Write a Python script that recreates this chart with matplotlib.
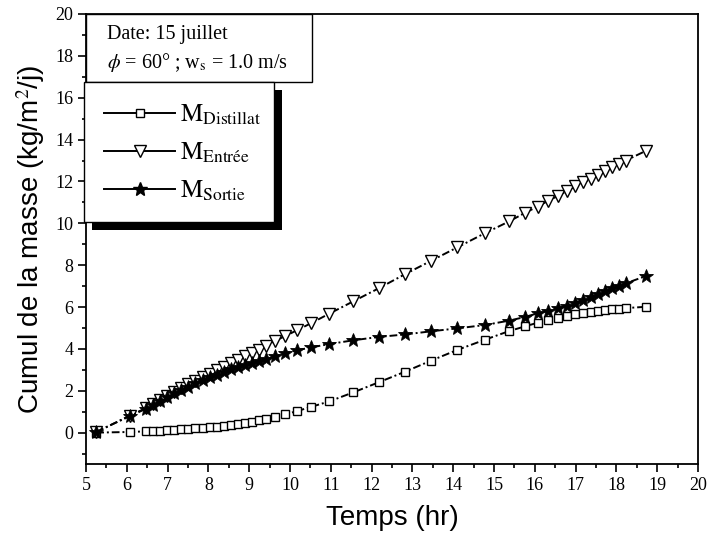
import matplotlib
matplotlib.use("Agg")
import matplotlib.pyplot as plt
from matplotlib.lines import Line2D
from matplotlib.patches import Rectangle
from matplotlib.ticker import MultipleLocator

plt.rcParams['mathtext.fontset'] = 'stix'

# time (hr)
temps = [5.25, 6.07, 6.47, 6.64, 6.82, 6.99, 7.16, 7.34, 7.51, 7.68, 7.86,
         8.03, 8.20, 8.38, 8.55, 8.72, 8.90, 9.07, 9.24, 9.42, 9.63, 9.88,
         10.16, 10.52, 10.96, 11.55, 12.17, 12.82, 13.46, 14.10, 14.78,
         15.37, 15.75, 16.07, 16.32, 16.57, 16.79, 16.99, 17.19, 17.38,
         17.56, 17.72, 17.90, 18.07, 18.23, 18.72]

m_distillat = [0.00, 0.03, 0.06, 0.08, 0.10, 0.12, 0.14, 0.16, 0.18, 0.20, 0.23,
               0.26, 0.29, 0.33, 0.37, 0.42, 0.47, 0.53, 0.59, 0.67, 0.76, 0.87,
               1.02, 1.23, 1.49, 1.92, 2.40, 2.91, 3.44, 3.95, 4.44,
               4.85, 5.07, 5.25, 5.36, 5.47, 5.57, 5.65, 5.71, 5.78,
               5.82, 5.86, 5.89, 5.92, 5.95, 6.01]

m_entree = [0.02, 0.81, 1.17, 1.36, 1.55, 1.74, 1.93, 2.12, 2.30, 2.47, 2.65,
            2.82, 2.98, 3.14, 3.31, 3.47, 3.64, 3.81, 3.97, 4.16, 4.38, 4.61,
            4.88, 5.23, 5.68, 6.27, 6.89, 7.57, 8.21, 8.85, 9.53,
            10.09, 10.49, 10.80, 11.07, 11.31, 11.55, 11.76, 11.95, 12.12,
            12.31, 12.51, 12.68, 12.84, 13.00, 13.46]

m_sortie = [0.04, 0.78, 1.14, 1.33, 1.52, 1.70, 1.87, 2.04, 2.20, 2.35, 2.50,
            2.64, 2.77, 2.90, 3.02, 3.13, 3.23, 3.32, 3.41, 3.52, 3.64, 3.79,
            3.93, 4.07, 4.23, 4.41, 4.57, 4.69, 4.84, 4.98, 5.14,
            5.35, 5.52, 5.70, 5.82, 5.93, 6.06, 6.21, 6.35, 6.48,
            6.62, 6.75, 6.89, 6.99, 7.13, 7.48]

labels = [r'$\mathrm{M}_{\mathrm{Distillat}}$',
          r'$\mathrm{M}_{\mathrm{Entrée}}$',
          r'$\mathrm{M}_{\mathrm{Sortie}}$']

W, H = 612.0, 450.0  # axes size in px
fig = plt.figure(figsize=(7.1, 5.41), dpi=100)
ax = fig.add_axes([86 / 710, 1 - 464 / 541, W / 710, H / 541])

dash = (0, (4, 1.5, 1, 1.5))
ax.plot(temps, m_distillat, color='k', lw=1.4, linestyle=dash, marker='s',
        ms=6, mfc='white', mec='k', mew=1)
ax.plot(temps, m_entree, color='k', lw=1.4, linestyle=dash, marker='v',
        ms=8.5, mfc='white', mec='k', mew=1)
ax.plot(temps, m_sortie, color='k', lw=1.4, linestyle=dash, marker='*',
        ms=10, mfc='k', mec='k', mew=0.6)

ax.set_xlim(5, 20)
ax.set_ylim(-1.5, 20)
ax.xaxis.set_major_locator(MultipleLocator(1))
ax.xaxis.set_minor_locator(MultipleLocator(0.5))
ax.yaxis.set_major_locator(MultipleLocator(2))
ax.yaxis.set_minor_locator(MultipleLocator(1))
ax.tick_params(which='both', direction='out', width=1.2, right=False, top=False)
ax.tick_params(which='major', length=6, labelsize=13, pad=3)
ax.tick_params(which='minor', length=3)
for lab in ax.get_xticklabels() + ax.get_yticklabels():
    lab.set_family('Liberation Serif')
for s in ax.spines.values():
    s.set_linewidth(1.3)

ax.set_xlabel('Temps (hr)', family='Liberation Sans', fontsize=20, labelpad=8)
ax.set_ylabel('Cumul de la masse (kg/m$^2$/j)', family='Liberation Sans',
              fontsize=20, labelpad=6)

# info box at top left
ax.add_patch(Rectangle((0, 1 - 68 / H), 226 / W, 68 / H,
                       transform=ax.transAxes, fc='white', ec='k', lw=1, zorder=5))
ax.text(21 / W, 1 - 21 / H, 'Date: 15 juillet', transform=ax.transAxes,
        family='Liberation Serif', fontsize=14.5, va='center', zorder=6)
ax.text(21 / W, 1 - 48 / H, r'$\phi$ = 60° ; w$_\mathrm{s}$ = 1.0 m/s',
        transform=ax.transAxes, family='Liberation Serif', fontsize=14.5,
        va='center', zorder=6)

# legend box with black shadow
lx0, ly0, lw_, lh_ = -2 / W, 1 - 208 / H, 190 / W, 140 / H
ax.add_patch(Rectangle((lx0 + 8 / W, ly0 - 8 / H), lw_, lh_,
                       transform=ax.transAxes, fc='k', ec='k', lw=0, zorder=4,
                       clip_on=False))
ax.add_patch(Rectangle((lx0, ly0), lw_, lh_, transform=ax.transAxes,
                       fc='white', ec='k', lw=1, zorder=5, clip_on=False))

handles = [Line2D([], [], color='k', lw=1.4, marker='s', ms=6, mfc='white', mec='k'),
           Line2D([], [], color='k', lw=1.4, marker='v', ms=8.5, mfc='white', mec='k'),
           Line2D([], [], color='k', lw=1.4, marker='*', ms=10, mfc='k', mec='k')]
leg = ax.legend(handles, labels, loc='upper left', frameon=False,
                bbox_to_anchor=(18 / W, 1 - 89 / H), prop={'size': 18},
                handlelength=2.85, handletextpad=0.2, labelspacing=0.55,
                borderaxespad=0, borderpad=0)
leg.set_zorder(7)

fig.savefig('out.png', dpi=100)
